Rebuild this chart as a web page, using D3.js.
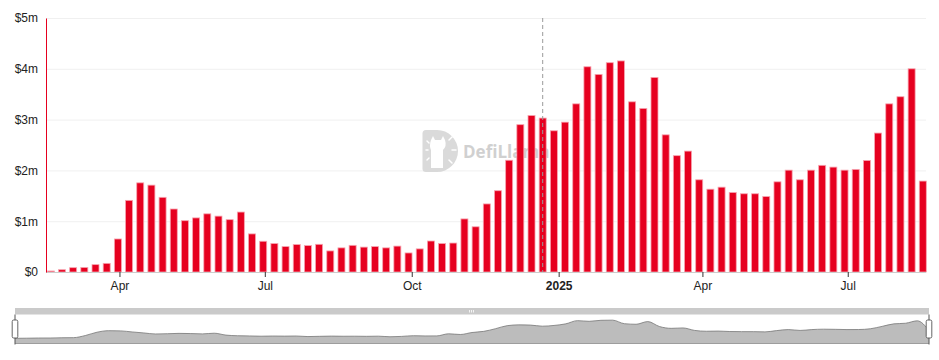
<!DOCTYPE html>
<html>
<head>
<meta charset="utf-8">
<script src="https://cdn.jsdelivr.net/npm/d3@7"></script>
<style>
  html, body { margin: 0; padding: 0; background: #fff; }
  svg { display: block; font-family: "Liberation Sans", Arial, sans-serif; }
</style>
</head>
<body>
<svg id="chart" width="939" height="360"></svg>
<script>
// ---- data (weekly, values in $ millions) ----
const weekStart = Date.UTC(2024, 1, 18);
const weekEnd = Date.UTC(2025, 7, 18);
const weeks = d3.utcWeek.range(new Date(weekStart), new Date(weekEnd));
const values = [
  0.02, 0.045, 0.085, 0.09, 0.145, 0.17, 0.65, 1.41, 1.755, 1.71,
  1.47, 1.24, 1.01, 1.065, 1.145, 1.10, 1.03, 1.18, 0.75, 0.605,
  0.56, 0.50, 0.54, 0.52, 0.545, 0.415, 0.475, 0.525, 0.49, 0.50,
  0.475, 0.51, 0.375, 0.455, 0.61, 0.56, 0.57, 1.045, 0.89, 1.34,
  1.60, 2.20, 2.90, 3.08, 3.03, 2.78, 2.95, 3.31, 4.04, 3.89,
  4.12, 4.155, 3.35, 3.22, 3.83, 2.70, 2.29, 2.38, 1.815, 1.63,
  1.67, 1.565, 1.54, 1.54, 1.485, 1.775, 2.005, 1.815, 2.005, 2.10,
  2.065, 2.005, 2.02, 2.195, 2.735, 3.31, 3.45, 4.00, 1.79
];
const yTicks = [0, 1, 2, 3, 4, 5];
const markerDate = new Date(Date.UTC(2024, 11, 22));
const xDomain = [new Date(Date.UTC(2024, 1, 15)), new Date(Date.UTC(2025, 7, 19))];

const data = weeks.map((d, i) => ({ date: d, value: values[i] }));

// ---- layout ----
const svg = d3.select("#chart");
const pL = 46, pR = 926, pT = 18, pB = 272;
const RED = "#e6001f";

const x = d3.scaleUtc().domain(xDomain).range([pL, pR]);
const y = d3.scaleLinear().domain([0, 5]).range([pB, pT]);

// gridlines
svg.append("g").selectAll("line").data(yTicks.filter(t => t > 0)).join("line")
  .attr("x1", pL).attr("x2", pR)
  .attr("y1", d => y(d) + 0.5).attr("y2", d => y(d) + 0.5)
  .attr("stroke", "#f0f0f0").attr("stroke-width", 1);

// watermark
const wm = svg.append("g").attr("opacity", 0.9);
wm.append("path")
  .attr("d", "M426,130 H437 A21,21 0 0 1 437,172 H426 A3.5,3.5 0 0 1 422.5,168.5 V133.5 A3.5,3.5 0 0 1 426,130 Z")
  .attr("fill", "#d6d6d6");
wm.append("path")
  .attr("d", "M431,140 L433,136 L435,140 L441,140 L443,136 L445,140 Q447,146 443,150 L443,168 L431,168 L431,150 Q429,146 431,140 Z")
  .attr("fill", "#ffffff");
[[449,140,452,137],[452,150,456,150],[449,160,452,163],[426,150,428,150],[427,141,429,143],[427,160,429,158]].forEach(s => {
  wm.append("line").attr("x1", s[0]).attr("y1", s[1]).attr("x2", s[2]).attr("y2", s[3])
    .attr("stroke", "#fff").attr("stroke-width", 1.5).attr("stroke-linecap", "round");
});
wm.append("text").attr("x", 463).attr("y", 158)
  .attr("font-family", "'Open Sans', 'DejaVu Sans', sans-serif")
  .attr("font-weight", "bold").attr("font-size", 17)
  .attr("fill", "#cccccc").text("DefiLlama");

// bars
const bw = 7;
svg.append("g").selectAll("rect").data(data).join("rect")
  .attr("x", d => x(d.date) - bw / 2)
  .attr("width", bw)
  .attr("y", d => y(d.value))
  .attr("height", d => Math.max(0, y(0) - y(d.value)))
  .attr("fill", RED)
  .attr("stroke", "#f7a3af").attr("stroke-width", 0.8);

// x axis
const xAxis = d3.axisBottom(x)
  .tickValues(d3.utcMonth.every(3).range(xDomain[0], xDomain[1]))
  .tickSize(5).tickPadding(4)
  .tickFormat(d => d.getUTCMonth() === 0 ? d3.utcFormat("%Y")(d) : d3.utcFormat("%b")(d));
const gx = svg.append("g").attr("transform", `translate(0,${pB})`).call(xAxis);
gx.select(".domain").attr("stroke", "#cccccc").attr("d", `M${pL},0.5H${pR}`);
gx.selectAll(".tick line").attr("stroke", "#333");
gx.selectAll(".tick text").attr("fill", "#222").attr("font-size", 12)
  .attr("font-family", "'Liberation Sans', Arial, sans-serif")
  .attr("font-weight", d => d.getUTCMonth() === 0 ? "bold" : "normal");

// y axis
const yAxis = d3.axisLeft(y).tickValues(yTicks).tickSize(0).tickPadding(8)
  .tickFormat(d => d === 0 ? "$0" : `$${d}m`);
const gy = svg.append("g").attr("transform", `translate(${pL},0)`).call(yAxis);
gy.select(".domain").attr("stroke", RED).attr("stroke-width", 1);
gy.selectAll(".tick text").attr("fill", "#222").attr("font-size", 12)
  .attr("font-family", "'Liberation Sans', Arial, sans-serif");

// hover marker dashed line
svg.append("line")
  .attr("x1", x(markerDate)).attr("x2", x(markerDate))
  .attr("y1", pT).attr("y2", pB)
  .attr("stroke", "#9a9a9a").attr("stroke-width", 1).attr("stroke-dasharray", "4,3");

// ---- slider (data zoom) ----
const sL = 15, sR = 929, sTop = 314.5, sBot = 343.5;
const sx = d3.scaleUtc().domain(d3.extent(weeks)).range([sL, sR]);
const sy = d3.scaleLinear().domain([0, 5.44]).range([338.4, sTop]);

svg.append("rect").attr("x", sL).attr("y", 308).attr("width", sR - sL).attr("height", sTop - 308)
  .attr("fill", "#cacaca");
// tiny move-handle marks
[469, 471, 473].forEach(mx => {
  svg.append("rect").attr("x", mx).attr("y", 310).attr("width", 1).attr("height", 2.5).attr("fill", "#f4f4f4");
});

const area = d3.area().x(d => sx(d.date)).y0(sBot).y1(d => sy(d.value)).curve(d3.curveMonotoneX);
const line = d3.line().x(d => sx(d.date)).y(d => sy(d.value)).curve(d3.curveMonotoneX);
svg.append("path").datum(data).attr("d", area).attr("fill", "#bcbcbc");
svg.append("path").datum(data).attr("d", line).attr("fill", "none").attr("stroke", "#777").attr("stroke-width", 0.8);
svg.append("line").attr("x1", sL).attr("x2", sR).attr("y1", sBot).attr("y2", sBot)
  .attr("stroke", "#9d9d9d").attr("stroke-width", 1);

// handles
[sL, sR].forEach(hx => {
  svg.append("line").attr("x1", hx).attr("x2", hx).attr("y1", sTop).attr("y2", sBot + 1)
    .attr("stroke", "#555").attr("stroke-width", 1);
  svg.append("rect").attr("x", hx - 2.8).attr("y", 320).attr("width", 5.6).attr("height", 18)
    .attr("rx", 1.5).attr("fill", "#fff").attr("stroke", "#555").attr("stroke-width", 0.9);
});
</script>
</body>
</html>
